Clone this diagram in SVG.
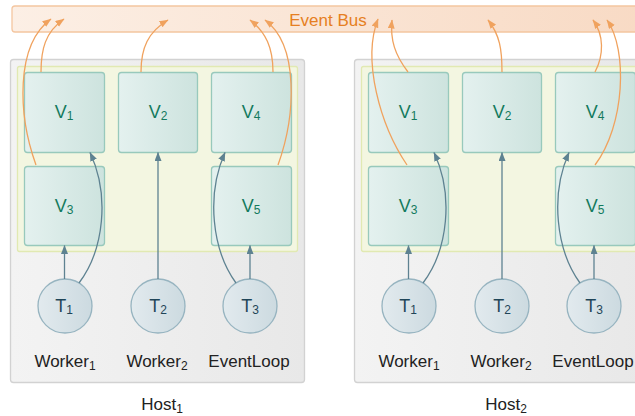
<svg xmlns="http://www.w3.org/2000/svg" width="635" height="416" viewBox="0 0 635 416">
<defs>
<linearGradient id="gBus" x1="0" y1="0" x2="1" y2="0"><stop offset="0" stop-color="#fcefe5"/><stop offset="1" stop-color="#f8dac4"/></linearGradient>
<linearGradient id="gHost" x1="0" y1="0" x2="1" y2="0"><stop offset="0" stop-color="#f3f3f3"/><stop offset="1" stop-color="#e8e8e8"/></linearGradient>
<linearGradient id="gV" x1="0" y1="0" x2="1" y2="0"><stop offset="0" stop-color="#e4f1ef"/><stop offset="1" stop-color="#cde3de"/></linearGradient>
<linearGradient id="gT" x1="0" y1="0" x2="1" y2="0"><stop offset="0" stop-color="#e2eaee"/><stop offset="1" stop-color="#ccdae0"/></linearGradient>
<marker id="ab" markerUnits="userSpaceOnUse" markerWidth="12" markerHeight="10" refX="8.5" refY="3.5" orient="auto"><path d="M0,0 L9,3.5 L0,7 Z" fill="#5e8291"/></marker>
<marker id="ao" markerUnits="userSpaceOnUse" markerWidth="12" markerHeight="10" refX="8.5" refY="3.5" orient="auto"><path d="M0,0 L9,3.5 L0,7 Z" fill="#f0a25e"/></marker>
</defs>
<style>
text{font-family:"Liberation Sans",Arial,sans-serif}
.host{fill:url(#gHost);stroke:#d2d2d2;stroke-width:1.3}
.inner{fill:#f3f6e1;stroke:#e1e9b2;stroke-width:1.3}
.v rect{fill:url(#gV);stroke:#98c9bc;stroke-width:1.3}
.v text{fill:#137a5d;font-size:18px;text-anchor:middle}
.t circle{fill:url(#gT);stroke:#97b4c0;stroke-width:1.3}
.t text{fill:#1f4558;font-size:18px;text-anchor:middle}
.lbl{fill:#222;font-size:17px;text-anchor:middle}
.sub{font-size:12px}
.cb{fill:none;stroke:#5e8291;stroke-width:1.3;marker-end:url(#ab)}
.co{fill:none;stroke:#f0a25e;stroke-width:1.3;marker-end:url(#ao)}
</style>

<g id="bus">
<rect x="12" y="6" width="640" height="26" rx="3" fill="url(#gBus)" stroke="#f4c6a0" stroke-width="1.3"/>
<text x="328" y="26" fill="#e67f22" font-size="17" text-anchor="middle">Event Bus</text>
</g>

<g id="host1">
<rect class="host" x="10.5" y="59.5" width="294" height="323" rx="3"/>
<rect class="inner" x="17.5" y="66.5" width="280" height="185" rx="2"/>
<text class="lbl" x="162" y="410">Host<tspan class="sub" dy="3">1</tspan></text>
</g>
<g id="host2">
<rect class="host" x="354.5" y="59.5" width="294" height="323" rx="3"/>
<rect class="inner" x="361.5" y="66.5" width="280" height="185" rx="2"/>
<text class="lbl" x="506" y="410">Host<tspan class="sub" dy="3">2</tspan></text>
</g>

<g id="h1-V1" class="v"><rect x="24.5" y="72.5" width="80" height="80" rx="3"/><text x="64" y="118">V<tspan class="sub" dy="2">1</tspan></text></g>
<g id="h1-V2" class="v"><rect x="118.5" y="72.5" width="79" height="80" rx="3"/><text x="158" y="118">V<tspan class="sub" dy="2">2</tspan></text></g>
<g id="h1-V4" class="v"><rect x="211.5" y="72.5" width="80" height="80" rx="3"/><text x="251" y="118">V<tspan class="sub" dy="2">4</tspan></text></g>
<g id="h1-V3" class="v"><rect x="24.5" y="166.5" width="80" height="79" rx="3"/><text x="64" y="212">V<tspan class="sub" dy="2">3</tspan></text></g>
<g id="h1-V5" class="v"><rect x="211.5" y="166.5" width="80" height="79" rx="3"/><text x="251" y="212">V<tspan class="sub" dy="2">5</tspan></text></g>

<g id="h2-V1" class="v"><rect x="368.5" y="72.5" width="80" height="80" rx="3"/><text x="408" y="118">V<tspan class="sub" dy="2">1</tspan></text></g>
<g id="h2-V2" class="v"><rect x="462.5" y="72.5" width="79" height="80" rx="3"/><text x="502" y="118">V<tspan class="sub" dy="2">2</tspan></text></g>
<g id="h2-V4" class="v"><rect x="555.5" y="72.5" width="80" height="80" rx="3"/><text x="595" y="118">V<tspan class="sub" dy="2">4</tspan></text></g>
<g id="h2-V3" class="v"><rect x="368.5" y="166.5" width="80" height="79" rx="3"/><text x="408" y="212">V<tspan class="sub" dy="2">3</tspan></text></g>
<g id="h2-V5" class="v"><rect x="555.5" y="166.5" width="80" height="79" rx="3"/><text x="595" y="212">V<tspan class="sub" dy="2">5</tspan></text></g>

<g id="h1-T1" class="t"><circle cx="65" cy="306" r="27"/><text x="64" y="312">T<tspan class="sub" dy="2">1</tspan></text></g>
<g id="h1-T2" class="t"><circle cx="158" cy="306" r="27"/><text x="158" y="312">T<tspan class="sub" dy="2">2</tspan></text></g>
<g id="h1-T3" class="t"><circle cx="250" cy="306" r="27"/><text x="250" y="312">T<tspan class="sub" dy="2">3</tspan></text></g>
<g id="h2-T1" class="t"><circle cx="409" cy="306" r="27"/><text x="408" y="312">T<tspan class="sub" dy="2">1</tspan></text></g>
<g id="h2-T2" class="t"><circle cx="502" cy="306" r="27"/><text x="502" y="312">T<tspan class="sub" dy="2">2</tspan></text></g>
<g id="h2-T3" class="t"><circle cx="594" cy="306" r="27"/><text x="594" y="312">T<tspan class="sub" dy="2">3</tspan></text></g>

<g id="labels">
<text class="lbl" x="65" y="367">Worker<tspan class="sub" dy="3">1</tspan></text>
<text class="lbl" x="157" y="367">Worker<tspan class="sub" dy="3">2</tspan></text>
<text class="lbl" x="249" y="367">EventLoop</text>
<text class="lbl" x="409" y="367">Worker<tspan class="sub" dy="3">1</tspan></text>
<text class="lbl" x="501" y="367">Worker<tspan class="sub" dy="3">2</tspan></text>
<text class="lbl" x="593" y="367">EventLoop</text>
</g>

<g id="connectors">
<path class="cb" d="M64.5,279 L64.5,245.5"/>
<path class="cb" d="M79,283 C104,250 110,195 90,152.5"/>
<path class="cb" d="M158,279 L158,152.5"/>
<path class="cb" d="M250,279 L250,245.5"/>
<path class="cb" d="M236,283 C212,250 206,195 225,152.5"/>
<path class="cb" d="M408.5,279 L408.5,245.5"/>
<path class="cb" d="M423,283 C448,250 454,195 434,152.5"/>
<path class="cb" d="M502,279 L502,152.5"/>
<path class="cb" d="M594,279 L594,245.5"/>
<path class="cb" d="M580,283 C556,250 550,195 569,152.5"/>

<path class="co" d="M36,165 C18,115 15,45 51,19"/>
<path class="co" d="M41,72 C41,50 45,32 64,19"/>
<path class="co" d="M141,72 C141,48 148,32 168,20"/>
<path class="co" d="M273,72 C273,48 266,32 250,20"/>
<path class="co" d="M278,165 C296,115 299,45 265,20"/>
<path class="co" d="M407,165 C380,125 362,60 378,19"/>
<path class="co" d="M408,72 C395,55 390,40 392,20"/>
<path class="co" d="M502,72 C502,50 500,35 488,20"/>
<path class="co" d="M595,72 C604,55 604,35 593,20"/>
<path class="co" d="M595,165 C625,125 628,50 607,20"/>
</g>
</svg>
